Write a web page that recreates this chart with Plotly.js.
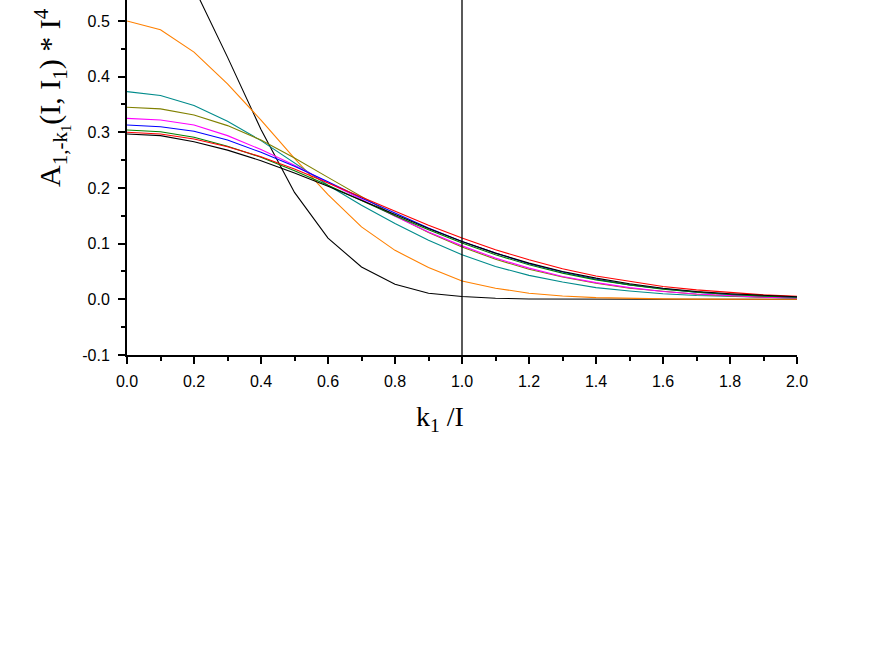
<!DOCTYPE html>
<html>
<head>
<meta charset="utf-8">
<script src="https://cdn.plot.ly/plotly-3.0.1.min.js"></script>
<style>
  html, body { margin: 0; padding: 0; background: #fff; }
  #chart { width: 879px; height: 670px; }
</style>
</head>
<body>
<div id="chart"></div>
<script>
// x values: k1 / I
const kRatio = [0.0, 0.1, 0.2, 0.3, 0.4, 0.5, 0.6, 0.7, 0.8, 0.9, 1.0,
                1.1, 1.2, 1.3, 1.4, 1.5, 1.6, 1.7, 1.8, 1.9, 2.0];

// series values
const steepBlack = [0.690, 0.660, 0.560, 0.435, 0.305, 0.192, 0.110, 0.058, 0.027, 0.011, 0.005,
                    0.002, 0.0007, 0.0002, 0.0001, 0.0, 0.0, 0.0, 0.0, 0.0, 0.0];
const orangeVals = [0.500, 0.484, 0.444, 0.387, 0.322, 0.253, 0.188, 0.130, 0.088, 0.057, 0.033,
                    0.020, 0.011, 0.006, 0.003, 0.0015, 0.0008, 0.0004, 0.0002, 0.0001, 0.0];
const tealVals   = [0.373, 0.366, 0.348, 0.320, 0.285, 0.245, 0.205, 0.169, 0.136, 0.106, 0.080,
                    0.059, 0.043, 0.031, 0.021, 0.015, 0.010, 0.007, 0.005, 0.003, 0.002];
const oliveVals  = [0.345, 0.342, 0.331, 0.312, 0.286, 0.254, 0.219, 0.184, 0.150, 0.120, 0.094,
                    0.072, 0.054, 0.040, 0.029, 0.020, 0.014, 0.009, 0.006, 0.004, 0.002];
const magentaVals= [0.325, 0.322, 0.313, 0.294, 0.269, 0.241, 0.210, 0.179, 0.149, 0.121, 0.096,
                    0.074, 0.056, 0.041, 0.030, 0.021, 0.014, 0.0096, 0.0062, 0.0040, 0.0025];
const blueVals   = [0.313, 0.310, 0.302, 0.286, 0.264, 0.239, 0.211, 0.182, 0.155, 0.128, 0.104,
                    0.083, 0.064, 0.049, 0.036, 0.026, 0.019, 0.013, 0.0089, 0.0059, 0.0039];
const greenVals  = [0.304, 0.301, 0.291, 0.275, 0.255, 0.231, 0.205, 0.177, 0.150, 0.125, 0.101,
                    0.080, 0.062, 0.047, 0.035, 0.026, 0.018, 0.013, 0.0086, 0.0057, 0.0037];
const redVals    = [0.300, 0.297, 0.288, 0.274, 0.256, 0.234, 0.209, 0.184, 0.158, 0.133, 0.110,
                    0.089, 0.071, 0.055, 0.042, 0.032, 0.023, 0.017, 0.012, 0.008, 0.0055];
const blackVals  = [0.297, 0.294, 0.283, 0.268, 0.249, 0.227, 0.203, 0.178, 0.152, 0.127, 0.104,
                    0.083, 0.065, 0.050, 0.038, 0.028, 0.020, 0.014, 0.010, 0.007, 0.0045];

const xTickVals = [0.0, 0.2, 0.4, 0.6, 0.8, 1.0, 1.2, 1.4, 1.6, 1.8, 2.0];
const xTickText = ['0.0', '0.2', '0.4', '0.6', '0.8', '1.0', '1.2', '1.4', '1.6', '1.8', '2.0'];
const yTickVals = [-0.1, 0.0, 0.1, 0.2, 0.3, 0.4, 0.5];
const yTickText = ['-0.1', '0.0', '0.1', '0.2', '0.3', '0.4', '0.5'];
const markerX = 1.0;

const series = [
  {y: steepBlack, color: '#000000'},
  {y: orangeVals, color: '#FF8000'},
  {y: tealVals, color: '#008B8B'},
  {y: oliveVals, color: '#808000'},
  {y: magentaVals, color: '#FF00FF'},
  {y: blueVals, color: '#0000FF'},
  {y: greenVals, color: '#008000'},
  {y: redVals, color: '#FF0000'},
  {y: blackVals, color: '#000000'}
];

const traces = series.map(s => ({
  x: kRatio, y: s.y, type: 'scatter', mode: 'lines',
  line: {color: s.color, width: 1.1},
  showlegend: false, hoverinfo: 'skip', cliponaxis: true
}));

const tickFont = {family: 'Liberation Sans, Arial, sans-serif', size: 16, color: '#000'};
const titleFont = {family: 'Liberation Serif, Times New Roman, serif', size: 28, color: '#000'};
const yTitleFont = {family: 'Liberation Serif, Times New Roman, serif', size: 30, color: '#000'};

const layout = {
  width: 879, height: 670,
  paper_bgcolor: '#fff', plot_bgcolor: '#fff',
  margin: {l: 127, r: 82, t: 0, b: 315, pad: 0},
  xaxis: {
    range: [0, 2], showgrid: false, zeroline: false,
    showline: true, linecolor: '#000', linewidth: 2,
    ticks: 'outside', ticklen: 7, tickwidth: 2, tickcolor: '#000',
    tickmode: 'array', tickvals: xTickVals, ticktext: xTickText,
    ticklabelstandoff: 4,
    minor: {dtick: 0.1, ticks: 'outside', ticklen: 4, tickwidth: 2, tickcolor: '#000', showgrid: false},
    tickfont: tickFont, mirror: false
  },
  yaxis: {
    range: [-0.1, 0.5376], showgrid: false, zeroline: false,
    showline: true, linecolor: '#000', linewidth: 2,
    ticks: 'outside', ticklen: 7, tickwidth: 2, tickcolor: '#000',
    tickmode: 'array', tickvals: yTickVals, ticktext: yTickText,
    ticklabelstandoff: 5,
    minor: {dtick: 0.05, ticks: 'outside', ticklen: 4, tickwidth: 2, tickcolor: '#000', showgrid: false},
    tickfont: tickFont, mirror: false
  },
  shapes: [{
    type: 'line', xref: 'x', yref: 'paper',
    x0: markerX, x1: markerX, y0: 0, y1: 1,
    line: {color: '#000', width: 1.3}
  }],
  annotations: [
    {
      text: 'k<sub>1</sub> /I', xref: 'paper', yref: 'paper',
      x: 0.467, y: -0.178, xanchor: 'center', yanchor: 'middle',
      showarrow: false, font: titleFont
    },
    {
      text: 'A<sub>1,-k<sub>1</sub></sub>(I, I<sub>1</sub>) * I<sup>4</sup>',
      xref: 'paper', yref: 'paper', x: -0.113, y: 0.725,
      xanchor: 'center', yanchor: 'middle', textangle: -90,
      showarrow: false, font: yTitleFont
    }
  ]
};

Plotly.newPlot('chart', traces, layout, {displayModeBar: false, staticPlot: true});
</script>
</body>
</html>
